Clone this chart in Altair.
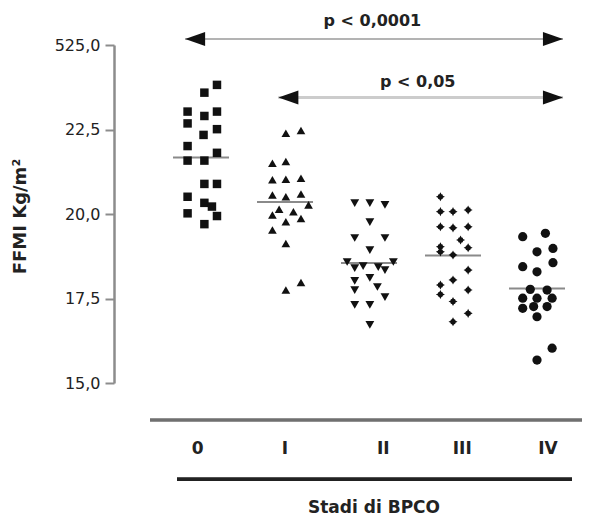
import altair as alt
import pandas as pd

# ---- data ----
stages = ["0", "I", "II", "III", "IV"]
stage_label_shift = [-0.04, 0.0, 0.17, 0.11, 0.13]

ffmi_0 = [23.82, 23.59, 23.03, 22.68, 22.90, 23.03, 22.51, 22.34, 22.01, 21.81,
          21.58, 21.58, 20.89, 20.89, 20.51, 20.33, 20.22, 19.94, 20.02, 19.70]
jit_0 = [0.19, 0.04, -0.16, -0.16, 0.04, 0.19, 0.19, 0.03, -0.16, 0.19,
         -0.16, 0.04, 0.04, 0.19, -0.16, 0.04, 0.13, 0.19, -0.16, 0.04]

ffmi_1 = [22.39, 22.47, 21.50, 21.55, 21.01, 21.03, 21.06, 20.56, 20.51, 20.59,
          20.27, 20.14, 19.97, 20.07, 19.87, 19.77, 19.53, 19.13, 17.75, 17.97]
jit_1 = [0.01, 0.19, -0.15, 0.01, -0.15, 0.01, 0.19, -0.15, 0.01, 0.19,
         0.28, -0.07, -0.15, 0.10, 0.19, 0.01, -0.15, 0.01, 0.01, 0.19]

ffmi_2 = [20.32, 20.32, 20.27, 19.76, 19.29, 19.29, 18.93, 18.58, 18.58, 18.40,
          18.46, 18.43, 18.34, 18.11, 18.02, 17.84, 17.75, 17.54, 17.31, 17.31, 16.72]
jit_2 = [-0.17, 0.01, 0.19, 0.01, -0.17, 0.19, 0.01, -0.26, 0.29, -0.17,
         -0.07, 0.11, 0.19, 0.01, -0.17, 0.10, -0.17, 0.19, -0.17, 0.01, 0.01]

ffmi_3 = [20.51, 20.07, 20.07, 20.12, 19.62, 19.59, 19.62, 19.23, 19.00, 19.03,
          18.88, 18.79, 18.34, 18.05, 17.90, 17.62, 17.75, 17.41, 17.06, 16.81]
jit_3 = [-0.15, -0.15, 0.0, 0.18, -0.15, 0.0, 0.18, 0.09, 0.18, -0.15,
         -0.15, 0.0, 0.18, 0.0, -0.15, -0.15, 0.18, 0.0, 0.18, 0.0]

ffmi_4 = [19.33, 19.43, 18.88, 18.98, 18.44, 18.29, 18.56, 17.77, 17.75, 17.51,
          17.51, 17.51, 17.21, 17.26, 17.26, 16.96, 16.03, 15.68]
jit_4 = [-0.17, 0.10, 0.0, 0.19, -0.17, 0.0, 0.19, -0.08, 0.12, -0.17,
         0.0, 0.18, -0.17, -0.04, 0.12, 0.0, 0.18, 0.0]

y_ticks = [15.0, 17.5, 20.0, 22.5, 25.0]
y_tick_labels = ["15,0", "17,5", "20,0", "22,5", "525,0"]

y_title = "FFMI Kg/m²"
x_title = "Stadi di BPCO"

# significance brackets
p_texts = ["p < 0,0001", "p < 0,05"]
p_text_x = [2.04, 2.58]
p_text_y = [25.71, 23.91]
arrow_from = [-0.19, 0.92]
arrow_to = [4.31, 4.31]
arrow_y = [25.18, 23.45]
head_left_x = [-0.07, 1.04]
head_right_x = [4.19, 4.19]

# ---- tables ----
rows = []
for i, (vals, jits) in enumerate([(ffmi_0, jit_0), (ffmi_1, jit_1), (ffmi_2, jit_2),
                                  (ffmi_3, jit_3), (ffmi_4, jit_4)]):
    for v, j in zip(vals, jits):
        rows.append({"stage": i, "label": stages[i], "jitter": j, "ffmi": v})
pts = pd.DataFrame(rows)

lab_df = pd.DataFrame({"stage": list(range(5)), "label": stages, "shift": stage_label_shift})
p_df = pd.DataFrame({"t": p_texts, "x": p_text_x, "y": p_text_y})
arr_df = pd.DataFrame({"x1": arrow_from, "x2": arrow_to, "y": arrow_y, "k": ["a", "b"]})
headl_df = pd.DataFrame({"x": head_left_x, "y": arrow_y})
headr_df = pd.DataFrame({"x": head_right_x, "y": arrow_y})

xscale = alt.Scale(domain=[-1.036, 4.5], nice=False, zero=False)
yscale = alt.Scale(domain=[15, 25], nice=False, zero=False)

star = ("M1,0L0.55,0.23L0.48,0.48L0.23,0.55L0,1L-0.23,0.55L-0.48,0.48L-0.55,0.23"
        "L-1,0L-0.55,-0.23L-0.48,-0.48L-0.23,-0.55L0,-1L0.23,-0.55L0.48,-0.48L0.55,-0.23Z")
shapes = ["square", "triangle-up", "triangle-down", star, "circle"]
sizes = [72, 85, 85, 115, 100]

label_expr = " : ".join(f"datum.value == {v} ? '{l}'" for v, l in zip(y_ticks, y_tick_labels)) + " : ''"

yaxis = alt.Axis(values=y_ticks, labelExpr=label_expr, title=y_title, grid=False,
                 domainColor="#8c8c8c", domainWidth=2.5, tickColor="#8c8c8c", tickWidth=2,
                 tickSize=9, labelPadding=5, labelFont="DejaVu Sans", labelFontSize=16,
                 labelColor="#222", titleFont="DejaVu Sans", titleFontSize=18,
                 titleFontWeight="bold", titleColor="#222", titleAngle=270,
                 titleX=-94, titleY=171, titleAlign="center", titleBaseline="middle")

means = alt.Chart(pts).mark_tick(orient="horizontal", size=56, thickness=2, color="#8a8a8a").encode(
    x=alt.X("stage:Q", scale=xscale, axis=None),
    y=alt.Y("mean(ffmi):Q", scale=yscale, axis=yaxis),
)

points = alt.Chart(pts).transform_calculate(xpos="datum.stage + datum.jitter").mark_point(
    filled=True, opacity=1, color="#111", strokeWidth=0
).encode(
    x=alt.X("xpos:Q", scale=xscale, axis=None),
    y=alt.Y("ffmi:Q", scale=yscale),
    shape=alt.Shape("label:O", scale=alt.Scale(domain=stages, range=shapes), legend=None),
    size=alt.Size("label:O", scale=alt.Scale(domain=stages, range=sizes), legend=None),
)

arr_a = alt.Chart(arr_df[arr_df.k == "a"]).mark_rule(color="#9a9a9a", strokeWidth=1.5).encode(
    x=alt.X("x1:Q", scale=xscale, axis=None), x2="x2:Q", y=alt.Y("y:Q", scale=yscale))
arr_b = alt.Chart(arr_df[arr_df.k == "b"]).mark_rule(color="#cccccc", strokeWidth=3).encode(
    x=alt.X("x1:Q", scale=xscale, axis=None), x2="x2:Q", y=alt.Y("y:Q", scale=yscale))

head_l = alt.Chart(headl_df).mark_point(shape="M-1,0L1,-0.7L1,0.7Z", size=400, filled=True,
                                        opacity=1, color="#111", strokeWidth=0).encode(
    x=alt.X("x:Q", scale=xscale, axis=None), y=alt.Y("y:Q", scale=yscale))
head_r = alt.Chart(headr_df).mark_point(shape="M1,0L-1,-0.7L-1,0.7Z", size=400, filled=True,
                                        opacity=1, color="#111", strokeWidth=0).encode(
    x=alt.X("x:Q", scale=xscale, axis=None), y=alt.Y("y:Q", scale=yscale))

ptext = alt.Chart(p_df).mark_text(font="DejaVu Sans", fontSize=16, fontWeight="bold",
                                  color="#222", baseline="middle").encode(
    x=alt.X("x:Q", scale=xscale, axis=None), y=alt.Y("y:Q", scale=yscale), text="t:N")

stage_lab = alt.Chart(lab_df).transform_calculate(xpos="datum.stage + datum.shift").mark_text(
    font="DejaVu Sans", fontSize=17, fontWeight="bold", color="#222", baseline="middle"
).encode(x=alt.X("xpos:Q", scale=xscale, axis=None), y=alt.value(403.5), text="label:N")

line_top = alt.Chart(lab_df).mark_rule(color="#707070", strokeWidth=2.5).encode(
    x=alt.value(36), x2=alt.value(480), y=alt.value(375))
line_bot = alt.Chart(lab_df).mark_rule(color="#222", strokeWidth=3).encode(
    x=alt.value(63), x2=alt.value(458), y=alt.value(434.3))

xt = alt.Chart(pd.DataFrame({"t": [x_title]})).mark_text(
    font="DejaVu Sans", fontSize=17, fontWeight="bold", color="#222", baseline="middle"
).encode(x=alt.value(260), y=alt.value(463), text="t:N")

chart = alt.layer(means, points, arr_a, arr_b, head_l, head_r, ptext, stage_lab,
                  line_top, line_bot, xt).properties(
    width=465, height=338,
    autosize=alt.AutoSizeParams(type="none"),
    padding={"left": 106, "top": 37, "right": 3, "bottom": 135},
    background="white",
).configure_view(stroke=None)

chart.save("out.html", embed_options={"renderer": "svg", "actions": False})
